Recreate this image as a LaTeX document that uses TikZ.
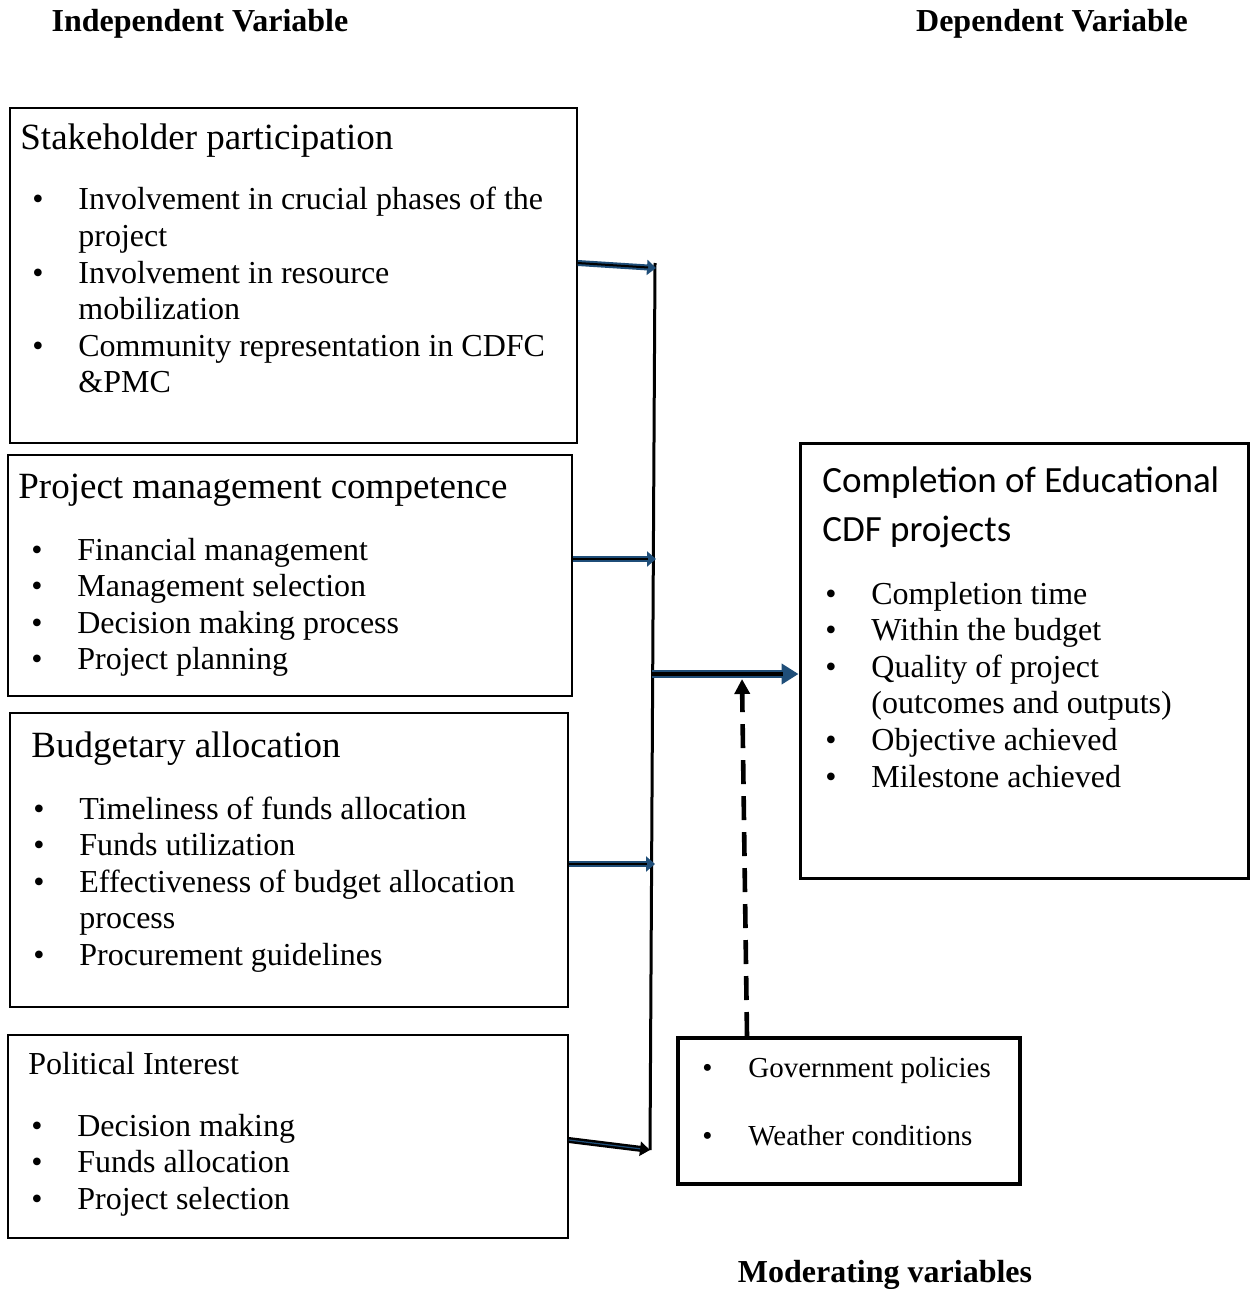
\documentclass[tikz,border=0pt]{standalone}
\usepackage{fontspec}
\setmainfont{Liberation Serif}
\newfontfamily\calibri{Carlito}
\usepackage{xcolor}
\usetikzlibrary{fit,arrows.meta}
\definecolor{arrowblue}{RGB}{31,78,121}
\newcommand{\itemlist}[1]{\begin{tabular}[t]{@{}p{23pt}@{}l@{}}#1\end{tabular}}

\begin{document}
\begin{tikzpicture}[x=0.5pt,y=-0.5pt,
    box/.style={draw, line width=0.8pt, inner sep=0pt},
    head/.style={anchor=base, font=\fontsize{16pt}{19pt}\selectfont\bfseries, inner sep=0pt},
    title/.style={anchor=base west, font=\fontsize{18.5pt}{22pt}\selectfont, inner sep=0pt},
    list/.style={anchor=base west, font=\fontsize{16pt}{18.3pt}\selectfont, inner sep=0pt},
    feed/.style={draw=arrowblue, line width=3pt, -{Triangle[length=4.5pt,width=7.5pt]},
        postaction={draw=black, line width=1pt, -, shorten >=4pt}},
    mainfeed/.style={draw=arrowblue, line width=4pt, -{Triangle[length=8.5pt,width=10pt]},
        postaction={draw=black, line width=1.6pt, -, shorten >=8pt}},
    feedb/.style={draw=black, line width=3pt, -{Triangle[length=5pt,width=7pt]},
        postaction={draw=arrowblue, line width=0.6pt, -, shorten >=5pt}},
    moder/.style={draw=black, line width=2.3pt, dash pattern=on 12pt off 6pt,
        -{Triangle[length=7.5pt,width=7.5pt]}}]

\useasboundingbox (0,0) rectangle (1250,1289);

\node[head] (iv) at (200,32) {Independent Variable};
\node[head] (dv) at (1052,32) {Dependent Variable};
\node[head] (mvh) at (885,1282) {Moderating variables};

% independent variables
\node[box, fit={(10,108) (577,443)}] (sp) {};
\node[title] (sptitle) at (20,150) {Stakeholder participation};
\node[list] (splist) at (32,210) {\itemlist{
    \textbullet & Involvement in crucial phases of the\\
    & project\\
    \textbullet & Involvement in resource\\
    & mobilization\\
    \textbullet & Community representation in CDFC\\
    & \&PMC}};

\node[box, fit={(8,455) (572,696)}] (pm) {};
\node[title] (pmtitle) at (18,498) {Project management competence};
\node[list] (pmlist) at (31,560) {\itemlist{
    \textbullet & Financial management\\
    \textbullet & Management selection\\
    \textbullet & Decision making process\\
    \textbullet & Project planning}};

\node[box, fit={(10,713) (568,1007)}] (ba) {};
\node[title] (batitle) at (31,757) {Budgetary allocation};
\node[list] (balist) at (33,819) {\itemlist{
    \textbullet & Timeliness of funds allocation\\
    \textbullet & Funds utilization\\
    \textbullet & Effectiveness of budget allocation\\
    & process\\
    \textbullet & Procurement guidelines}};

\node[box, fit={(8,1035) (568,1238)}] (pi) {};
\node[list] (pititle) at (28,1074) {Political Interest};
\node[list] (pilist) at (31,1136) {\itemlist{
    \textbullet & Decision making\\
    \textbullet & Funds allocation\\
    \textbullet & Project selection}};

% dependent variable
\node[box, line width=1.5pt, fit={(800,443) (1248,878)}] (cdf) {};
\node[anchor=base west, inner sep=0pt, font=\calibri\fontsize{18.5pt}{24.5pt}\selectfont] (cdftitle) at (822,492)
    {\begin{tabular}[t]{@{}l@{}}Completion of Educational\\CDF projects\end{tabular}};
\node[list] (cdflist) at (825,604) {\itemlist{
    \textbullet & Completion time\\
    \textbullet & Within the budget\\
    \textbullet & Quality of project\\
    & (outcomes and outputs)\\
    \textbullet & Objective achieved\\
    \textbullet & Milestone achieved}};

% moderating variables
\node[box, line width=2pt, fit={(678,1038) (1020,1184)}] (mv) {};
\node[anchor=base west, inner sep=0pt, font=\fontsize{14.5pt}{34pt}\selectfont] (mvlist) at (702,1077) {\itemlist{
    \textbullet & Government policies\\
    \textbullet & Weather conditions}};

% connectors
\coordinate (vtop) at (655,263);
\coordinate (j1) at (656,268);
\coordinate (j2) at (656,559);
\coordinate (jm) at (652,674);
\coordinate (j3) at (655,864);
\coordinate (j4) at (650,1150);
\coordinate (mtip) at (742,679);
\draw[line width=1.5pt] (vtop) -- (j4);
\draw[feed] ([yshift=6.25pt]sp.east) -- (j1);
\draw[feed] (pm.east |- j2) -- (j2);
\draw[feed] (ba.east |- j3) -- (j3);
\draw[feedb] ([yshift=-1.75pt]pi.east) -- (j4);
\draw[mainfeed] (jm) -- (cdf.west |- jm);
\draw[moder] ([xshift=-51pt]mv.north) -- (mtip);
\end{tikzpicture}
\end{document}
